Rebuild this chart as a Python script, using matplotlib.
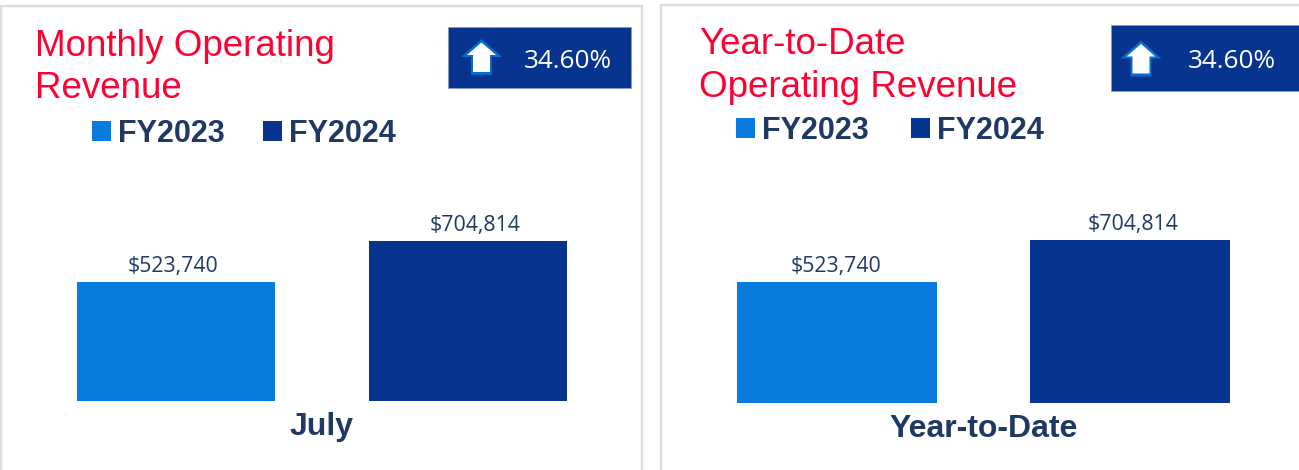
import matplotlib
matplotlib.use("Agg")
import matplotlib.pyplot as plt
from matplotlib.patches import Rectangle, Polygon

W, H = 1299, 470
categories_left = ["July"]
categories_right = ["Year-to-Date"]
series_names = ["FY2023", "FY2024"]
monthly_values = [523740, 704814]
ytd_values = [523740, 704814]
change_left = "34.60%"
change_right = "34.60%"
title_left = "Monthly Operating\nRevenue"
title_right = "Year-to-Date\nOperating Revenue"

LIGHT, DARK, INK, RED = "#077CDE", "#06348F", "#1F3864", "#FF0033"
BORDER = "#DDDDDD"

fig = plt.figure(figsize=(W / 100, H / 100), dpi=100, facecolor="white")
ov = fig.add_axes([0, 0, 1, 1], zorder=0)
ov.set_xlim(0, W); ov.set_ylim(H, 0); ov.axis("off")


def panel(x0, x1, top):
    ov.plot([x0, x0, x1, x1], [H + 5, top, top, H + 5], color=BORDER, lw=1.7,
            solid_joinstyle="miter", clip_on=False)


def badge(x, y, w, h, text, ax_x, ay, text_x, text_y):
    ov.add_patch(Rectangle((x, y), w, h, fc=DARK, ec="#8A9BC0", lw=0.6))
    outline = [(ax_x, ay - 18.5), (ax_x + 20.5, ay - 0.5), (ax_x + 10.5, ay - 0.5), (ax_x + 10.5, ay + 17.5),
               (ax_x - 10.5, ay + 17.5), (ax_x - 10.5, ay - 0.5), (ax_x - 20.5, ay - 0.5)]
    inner = [(ax_x, ay - 15), (ax_x + 14.5, ay - 2.5), (ax_x + 8.5, ay - 2.5), (ax_x + 8.5, ay + 14.5),
             (ax_x - 8.5, ay + 14.5), (ax_x - 8.5, ay - 2.5), (ax_x - 14.5, ay - 2.5)]
    ov.add_patch(Polygon(outline, closed=True, fc="#0A6CCB", ec="none"))
    ov.add_patch(Polygon(inner, closed=True, fc="white", ec="none"))
    ov.text(text_x, text_y, text, color="white", ha="center", va="center",
            family="Open Sans", fontsize=18.8)


def chart(cx, base, cat, values, sep, bw, leg_xy, colsp, label_dx, ppv):
    ax_w, ax_h = 590, 200
    ax = fig.add_axes([(cx - ax_w / 2) / W, (H - base) / H, ax_w / W, ax_h / H], zorder=1)
    half = ax_w / sep / 2
    ax.set_xlim(-half, half)
    ax.set_ylim(0, ax_h / ppv)
    ax.patch.set_alpha(0)
    offs = [-0.5, 0.5]
    for o, v, c, n, dx in zip(offs, values, [LIGHT, DARK], series_names, label_dx):
        ax.bar(o, v, width=bw / sep, color=c, label=n)
        ax.annotate(f"${v:,}", (o, v), xytext=(dx * 0.72, 3.5), textcoords="offset points",
                    ha="center", va="bottom", family="Open Sans", fontsize=15.3, color=INK)
    ax.set_xticks([0], cat)
    ax.tick_params(axis="x", length=0, pad=8, labelsize=23, labelcolor=INK)
    for lab in ax.get_xticklabels():
        lab.set_family("Liberation Sans"); lab.set_fontweight("bold")
    ax.set_yticks([])
    for s in ax.spines.values():
        s.set_visible(False)
    leg = fig.legend(*ax.get_legend_handles_labels(), ncol=2, frameon=False,
                     loc="center left", bbox_to_anchor=(leg_xy[0] / W, 1 - leg_xy[1] / H),
                     handlelength=0.62, handleheight=0.62, handletextpad=0.23,
                     columnspacing=colsp, borderpad=0, borderaxespad=0,
                     prop={"family": "Liberation Sans", "weight": "bold", "size": 22})
    for t in leg.get_texts():
        t.set_color(INK)


panel(1.5, 642, 6)
panel(661, W + 10, 4.5)
badge(448, 27, 183, 61, change_left, 481.5, 57.5, 567.5, 61.5)
badge(1111, 25, 188, 66, change_right, 1141, 59, 1231.5, 62)

chart(322, 401, categories_left, monthly_values, 291.5, 198, (92, 134), 1.25, (-3, 7), 160 / 704814)
chart(983.5, 403, categories_right, ytd_values, 293, 200, (736, 131), 1.38, (-1, 3.5), 163 / 704814)

ov.text(35, 28.5, title_left, color=RED, family="Liberation Sans", fontsize=26.5,
        va="top", ha="left", linespacing=1.27)
ov.text(699, 27.5, title_right, color=RED, family="Liberation Sans", fontsize=26.5,
        va="top", ha="left", linespacing=1.27)

fig.savefig("out.png", dpi=100, facecolor="white")
